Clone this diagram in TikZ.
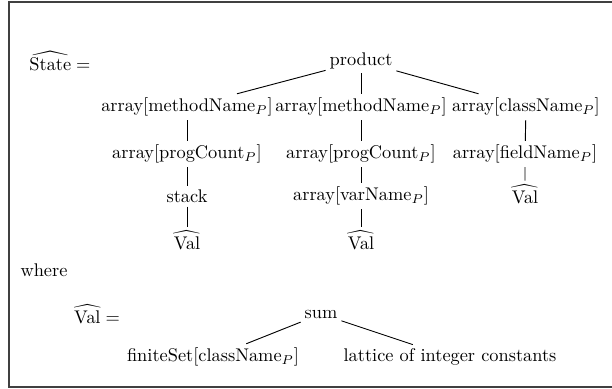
\documentclass[tikz,border=0pt]{standalone}
\usepackage{amsmath,amssymb}
\usepackage{tikz}
\usetikzlibrary{positioning,calc}

\begin{document}
\begin{tikzpicture}[x=0.545pt, y=-0.545pt, every node/.style={inner sep=2pt}, link/.style={line width=0.5pt}, frame/.style={line width=0.7pt, black!75}]
    \useasboundingbox (0,0) rectangle (612,388);
    % Frame (open on the right)
    \draw [frame] (625,2) -- (9,2) -- (9,387) -- (625,387);

    % State tree
    \node (state) at (60,61) {$\widehat{\mathrm{State}} =$};
    \node (prod) at (361,61) {product};
    \node (mA) at (187,107) {array[methodName$_P$]};
    \node (mB) at (361,107) {array[methodName$_P$]};
    \node (cls) at (526,107) {array[className$_P$]};
    \node (pcA) at (187,154) {array[progCount$_P$]};
    \node (pcB) at (361,154) {array[progCount$_P$]};
    \node (fld) at (525,154) {array[fieldName$_P$]};
    \node (stk) at (187,196) {stack};
    \node (var) at (361,196) {array[varName$_P$]};
    \node (valC) at (525,194) {$\widehat{\mathrm{Val}}$};
    \node (valA) at (187,240) {$\widehat{\mathrm{Val}}$};
    \node (valB) at (361,240) {$\widehat{\mathrm{Val}}$};
    \draw [link] (prod) -- (mA); \draw [link] (prod) -- (mB); \draw [link] (prod) -- (cls);
    \draw [link] (mA) -- (pcA) -- (stk) -- (valA);
    \draw [link] (mB) -- (pcB) -- (var) -- (valB);
    \draw [link] (cls) -- (fld) -- (valC);

    % Val tree
    \node (where) at (44,270) {where};
    \node (val) at (97,314) {$\widehat{\mathrm{Val}} =$};
    \node (sum) at (321,314) {sum};
    \node (fin) at (213,357) {finiteSet[className$_P$]};
    \node (lat) at (450,357) {lattice of integer constants};
    \draw [link] (sum) -- (fin); \draw [link] (sum) -- (lat);
\end{tikzpicture}
\end{document}
